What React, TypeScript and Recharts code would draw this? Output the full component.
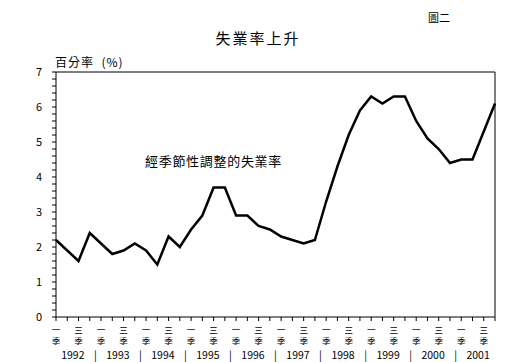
import React from 'react';
import { LineChart, Line, XAxis, YAxis, ReferenceLine } from 'recharts';

const years = ['1992', '1993', '1994', '1995', '1996', '1997', '1998', '1999', '2000', '2001'];
const quarterLabels = ['一', '', '三', ''];
const rates = [
  2.2, 1.9, 1.6, 2.4,
  2.1, 1.8, 1.9, 2.1,
  1.9, 1.5, 2.3, 2.0,
  2.5, 2.9, 3.7, 3.7,
  2.9, 2.9, 2.6, 2.5,
  2.3, 2.2, 2.1, 2.2,
  3.3, 4.3, 5.2, 5.9,
  6.3, 6.1, 6.3, 6.3,
  5.6, 5.1, 4.8, 4.4,
  4.5, 4.5, 5.3, 6.1,
];
const yTicks = [0, 0.2, 0.4, 0.6, 0.8, 1, 1.2, 1.4, 1.6, 1.8, 2, 2.2, 2.4, 2.6, 2.8, 3, 3.2, 3.4, 3.6, 3.8, 4, 4.2, 4.4, 4.6, 4.8, 5, 5.2, 5.4, 5.6, 5.8, 6, 6.2, 6.4, 6.6, 6.8, 7];
const yearTicks = [1.5, 3.5, 5.5, 7.5, 9.5, 11.5, 13.5, 15.5, 17.5, 19.5, 21.5, 23.5, 25.5, 27.5, 29.5, 31.5, 33.5, 35.5, 37.5];

const data = rates.map((v, i) => ({ i, v }));
const qTicks = data.map((d) => d.i);

const FONT = '"Noto Sans CJK TC", "Noto Sans", sans-serif';

const QuarterTick = (props: any) => {
  const { x, y, payload } = props;
  const lab = quarterLabels[payload.value % 4];
  if (!lab) return null;
  return (
    <g>
      <text x={x} y={y + 9.5} textAnchor="middle" fontSize={8.5} fontFamily={FONT} fill="#000">{lab}</text>
      <text x={x} y={y + 21} textAnchor="middle" fontSize={8.5} fontFamily={FONT} fill="#000">季</text>
    </g>
  );
};

const YearTick = (props: any) => {
  const { x, y, payload } = props;
  const v = payload.value;
  const isYear = Math.abs((v % 4) - 1.5) < 1e-6;
  const label = isYear ? years[Math.floor(v / 4)] : '|';
  return (
    <text x={x} y={y + 9.5} textAnchor="middle" fontSize={10.5} fontFamily={FONT} fill="#000">{label}</text>
  );
};

const YTick = (props: any) => {
  const { x, y, payload } = props;
  const v = payload.value;
  if (Math.abs(v - Math.round(v)) > 1e-6) return null;
  return (
    <text x={x - 8} y={y + 4} textAnchor="end" fontSize={11} fontFamily={FONT} fill="#000">{Math.round(v)}</text>
  );
};

export default function App() {
  return (
    <div style={{ position: 'absolute', left: 0, top: 0, width: 532, height: 362, background: '#fff', fontFamily: FONT }}>
      <LineChart width={532} height={362} data={data} margin={{ top: 72, right: 37, left: 0, bottom: 0 }}>
        <XAxis
          xAxisId="q"
          dataKey="i"
          type="number"
          domain={[0, 39]}
          ticks={qTicks}
          interval={0}
          tickSize={4}
          height={24}
          axisLine={{ stroke: '#000' }}
          tickLine={{ stroke: '#000' }}
          tick={<QuarterTick />}
        />
        <XAxis
          xAxisId="y"
          dataKey="i"
          type="number"
          domain={[0, 39]}
          ticks={yearTicks}
          interval={0}
          height={21}
          axisLine={false}
          tickLine={false}
          tick={<YearTick />}
        />
        <YAxis
          type="number"
          domain={[0, 7]}
          ticks={yTicks}
          interval={0}
          width={56}
          tickSize={4}
          axisLine={{ stroke: '#000' }}
          tickLine={{ stroke: '#000' }}
          tick={<YTick />}
        />
        <ReferenceLine xAxisId="q" y={7} stroke="#000" strokeWidth={1} />
        <ReferenceLine xAxisId="q" x={39} stroke="#000" strokeWidth={1} />
        <Line xAxisId="q" dataKey="v" type="linear" stroke="#000" strokeWidth={2.5} dot={false} isAnimationActive={false} />
      </LineChart>
      <div style={{ position: 'absolute', left: 428, top: 9, fontSize: 11, whiteSpace: 'nowrap' }}>圖二</div>
      <div style={{ position: 'absolute', left: 0, width: 516, top: 27, fontSize: 15, textAlign: 'center', letterSpacing: 2, whiteSpace: 'nowrap' }}>失業率上升</div>
      <div style={{ position: 'absolute', left: 55, top: 53, fontSize: 12, whiteSpace: 'nowrap', letterSpacing: 1 }}>百分率 &nbsp;(%)</div>
      <div style={{ position: 'absolute', left: 145, top: 151, fontSize: 13, whiteSpace: 'nowrap', letterSpacing: 0.7 }}>經季節性調整的失業率</div>
    </div>
  );
}
